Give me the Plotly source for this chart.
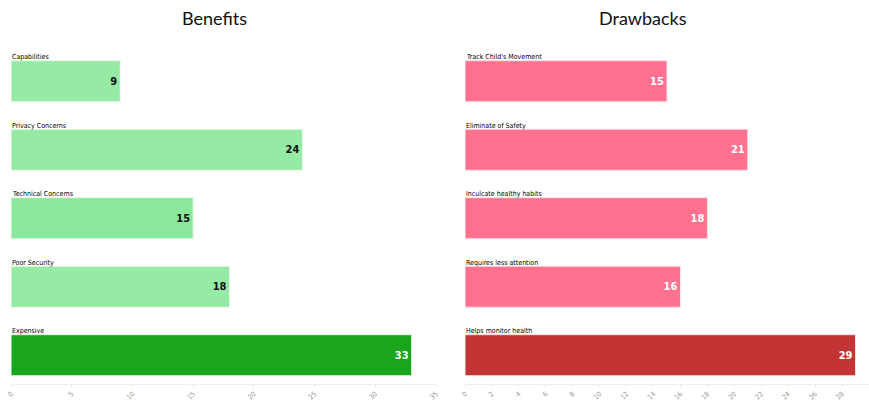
import plotly.graph_objects as go

# Survey results: benefits vs drawbacks
benefit_labels = ["Capabilities", "Privacy Concerns", "Technical Concerns", "Poor Security", "Expensive"]
benefit_values = [9, 24, 15, 18, 33]
benefit_colors = ["#96eba4", "#96eba4", "#8ae89a", "#96eba4", "#1ba51d"]
benefit_text_colors = ["#111111", "#111111", "#111111", "#111111", "#ffffff"]

drawback_labels = ["Track Child's Movement", "Eliminate of Safety", "Inculcate healthy habits",
                   "Requires less attention", "Helps monitor health"]
drawback_values = [15, 21, 18, 16, 29]
drawback_colors = ["#ff718f", "#ff718f", "#ff718f", "#ff718f", "#c53435"]
drawback_text_colors = ["#ffffff"] * 5

benefit_ticks = list(range(0, 36, 5))
drawback_ticks = list(range(0, 31, 2))

W, H = 869, 403
T, B = 47, 19
LABEL_FONT = "DejaVu Sans Condensed, sans-serif"

fig = go.Figure()

fig.add_trace(go.Bar(
    x=benefit_values, y=benefit_labels, orientation="h",
    marker=dict(color=benefit_colors, line=dict(color="#e8fbe9", width=1)),
    width=0.6,
    text=[str(v) for v in benefit_values], textposition="inside", insidetextanchor="end",
    textfont=dict(family=LABEL_FONT, size=11, color=benefit_text_colors, weight="bold"),
    xaxis="x", yaxis="y", showlegend=False, hoverinfo="x+y",
))
fig.add_trace(go.Bar(
    x=drawback_values, y=drawback_labels, orientation="h",
    marker=dict(color=drawback_colors, line=dict(color="#ffe3ea", width=1)),
    width=0.6,
    text=[str(v) for v in drawback_values], textposition="inside", insidetextanchor="end",
    textfont=dict(family=LABEL_FONT, size=11, color=drawback_text_colors, weight="bold"),
    xaxis="x2", yaxis="y2", showlegend=False, hoverinfo="x+y",
))

xcommon = dict(
    showgrid=False, zeroline=False, showline=True, linecolor="#eeeeee", linewidth=1,
    ticks="outside", ticklen=2, tickcolor="#e6e6e6", tickangle=-45,
    tickfont=dict(family=LABEL_FONT, size=7, color="#999999"), automargin=False,
)
ycommon = dict(
    showticklabels=False, showgrid=False, zeroline=False, showline=False,
    range=[4.42, -0.5], automargin=False,
)

annotations = []
for lab in benefit_labels:
    annotations.append(dict(x=0, y=lab, xref="x", yref="y", text=lab, showarrow=False,
                            xanchor="left", yanchor="bottom", yshift=18, xshift=-1,
                            font=dict(family=LABEL_FONT, size=7, color="#000000")))
for lab in drawback_labels:
    annotations.append(dict(x=0, y=lab, xref="x2", yref="y2", text=lab, showarrow=False,
                            xanchor="left", yanchor="bottom", yshift=18, xshift=-1,
                            font=dict(family=LABEL_FONT, size=7, color="#000000")))

title_y = (H - B - 18) / (H - T - B)
annotations.append(dict(x=214 / W, y=title_y, xref="paper", yref="paper",
                        xanchor="center", yanchor="middle",
                        text="Benefits", showarrow=False,
                        font=dict(family="Lato, sans-serif", size=18, color="#111111")))
annotations.append(dict(x=643 / W, y=title_y, xref="paper", yref="paper",
                        xanchor="center", yanchor="middle",
                        text="Drawbacks", showarrow=False,
                        font=dict(family="Lato, sans-serif", size=18, color="#111111")))

fig.update_layout(
    width=W, height=H,
    margin=dict(l=0, r=0, t=T, b=B),
    paper_bgcolor="white", plot_bgcolor="white",
    xaxis=dict(domain=[11 / W, 436 / W], range=[0, 35], tickvals=benefit_ticks, **xcommon),
    yaxis=dict(anchor="x", **ycommon),
    xaxis2=dict(domain=[465 / W, 1.0], range=[0, 30], tickvals=drawback_ticks, **xcommon),
    yaxis2=dict(anchor="x2", **ycommon),
    annotations=annotations,
    bargap=0.4,
)

fig.write_html("out.html")
